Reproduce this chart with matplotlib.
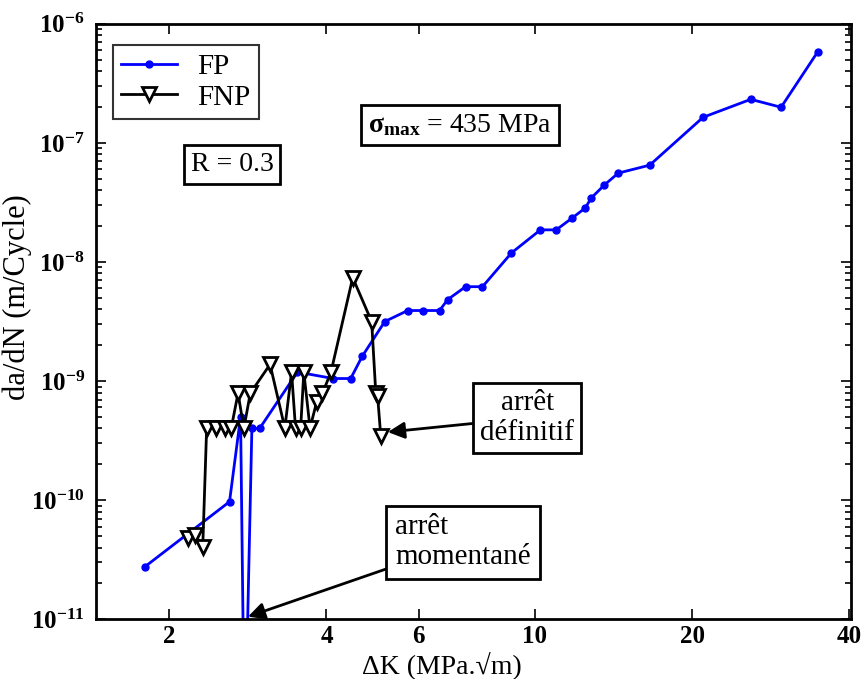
import numpy as np
import matplotlib
matplotlib.use('Agg')
import matplotlib.pyplot as plt
from matplotlib.ticker import FixedLocator, NullLocator, LogLocator, NullFormatter, LogFormatterSciNotation

plt.rcParams['font.family'] = ['Liberation Serif', 'DejaVu Serif']
plt.rcParams['mathtext.fontset'] = 'custom'
plt.rcParams['mathtext.rm'] = 'Liberation Serif'
plt.rcParams['mathtext.it'] = 'Liberation Serif:italic'
plt.rcParams['mathtext.bf'] = 'Liberation Serif:bold'

# FP (blue)
fp_dk = [1.80, 2.61, 2.74, 2.79, 2.88, 2.98, 3.52, 4.12, 4.45, 4.68, 5.17, 5.72,
         6.13, 6.58, 6.82, 7.38, 7.95, 9.03, 10.26, 11.0, 11.8, 12.5, 12.83,
         13.59, 14.45, 16.6, 21.0, 25.9, 29.6, 34.8]
fp_dadn = [2.77e-11, 9.7e-11, 5.0e-10, 7.0e-13, 4.0e-10, 4.0e-10, 1.19e-9, 1.05e-9,
           1.05e-9, 1.61e-9, 3.16e-9, 3.91e-9, 3.91e-9, 3.91e-9, 4.83e-9, 6.2e-9,
           6.2e-9, 1.19e-8, 1.86e-8, 1.86e-8, 2.34e-8, 2.84e-8, 3.44e-8, 4.42e-8,
           5.57e-8, 6.5e-8, 1.64e-7, 2.32e-7, 1.99e-7, 5.83e-7]

# FNP (black, open triangles)
fnp_dk = [2.17, 2.24, 2.32, 2.36, 2.46, 2.56, 2.63, 2.71, 2.78, 2.86, 3.12, 3.33,
          3.43, 3.49, 3.57, 3.62, 3.72, 3.83, 3.93, 4.08, 4.49, 4.88, 4.97, 5.01, 5.08]
fnp_dadn = [4.85e-11, 5.14e-11, 4.08e-11, 4.03e-10, 4.03e-10, 4.03e-10, 4.03e-10,
            7.9e-10, 4.0e-10, 7.9e-10, 1.38e-9, 4.03e-10, 1.19e-9, 4.03e-10,
            4.03e-10, 1.19e-9, 4.03e-10, 6.65e-10, 7.9e-10, 1.19e-9, 7.38e-9,
            3.16e-9, 7.9e-10, 7.46e-10, 3.45e-10]

x_ticks = [2, 4, 6, 10, 20, 40]
y_ticks = [1e-11, 1e-10, 1e-9, 1e-8, 1e-7, 1e-6]

fig = plt.figure(figsize=(8.65, 6.79), dpi=100)
ax = fig.add_axes([0.111, 0.088, 0.873, 0.877])

ax.plot(fp_dk, fp_dadn, '-o', color='#0000ff', lw=2, ms=5, label='FP')
ax.plot(fnp_dk, fnp_dadn, '-v', color='black', lw=2, ms=10, mfc='white',
        mec='black', mew=2, label='FNP')

ax.set_xscale('log')
ax.set_yscale('log')
ax.set_xlim(1.45, 40.3)
ax.set_ylim(1e-11, 1e-6)

ax.xaxis.set_major_locator(FixedLocator(x_ticks))
ax.set_xticklabels([str(t) for t in x_ticks])
ax.xaxis.set_minor_locator(NullLocator())
ax.yaxis.set_major_locator(FixedLocator(y_ticks))
ax.yaxis.set_major_formatter(LogFormatterSciNotation())
ax.yaxis.set_minor_locator(LogLocator(base=10, subs=np.arange(2, 10), numticks=20))
ax.yaxis.set_minor_formatter(NullFormatter())

ax.tick_params(which='both', direction='in', top=True, right=True, width=1.2)
ax.tick_params(which='major', length=7, labelsize=18)
ax.tick_params(axis='x', pad=4)
ax.tick_params(axis='y', pad=8)
ax.tick_params(which='minor', length=4)
for lab in ax.get_xticklabels() + ax.get_yticklabels():
    lab.set_fontweight('bold')
for s in ax.spines.values():
    s.set_linewidth(2)

ax.set_xlabel('ΔK (MPa.√m)', fontsize=20)
ax.xaxis.set_label_coords(0.458, -0.054)
ax.set_ylabel('da/dN (m/Cycle)', fontsize=22)
ax.yaxis.set_label_coords(-0.085, 0.541)

leg = ax.legend(loc='upper left', bbox_to_anchor=(0.022, 0.965), fontsize=21,
                fancybox=False, edgecolor='black', handlelength=1.9,
                borderpad=0.3, labelspacing=0.15, handletextpad=0.7,
                borderaxespad=0)
leg.get_frame().set_linewidth(1.5)

box = dict(boxstyle='square,pad=0.25', fc='white', ec='black', lw=2)
ax.text(0.18, 0.763, 'R = 0.3', transform=ax.transAxes, fontsize=20,
        ha='center', va='center', bbox=box)
ax.text(0.482, 0.830, r'$\mathbf{\sigma_{max}}$ = 435 MPa', transform=ax.transAxes,
        fontsize=20, ha='center', va='center', bbox=box)

ax.annotate('arrêt\ndéfinitif', xy=(5.24, 3.73e-10), xytext=(0.571, 0.338),
            textcoords='axes fraction', fontsize=21,
            ha='center', va='center', multialignment='center', bbox=box,
            arrowprops=dict(arrowstyle='-|>', color='black', lw=2,
                            mutation_scale=25, shrinkA=0, shrinkB=0))
ax.annotate('arrêt\nmomentané', xy=(2.83, 1.05e-11), xytext=(0.486, 0.129),
            textcoords='axes fraction', fontsize=21,
            ha='center', va='center', multialignment='left',
            bbox=dict(boxstyle='square,pad=0.3', fc='white', ec='black', lw=2),
            arrowprops=dict(arrowstyle='-|>', color='black', lw=2,
                            mutation_scale=25, shrinkA=0, shrinkB=0))

fig.savefig('out.png', dpi=100)
